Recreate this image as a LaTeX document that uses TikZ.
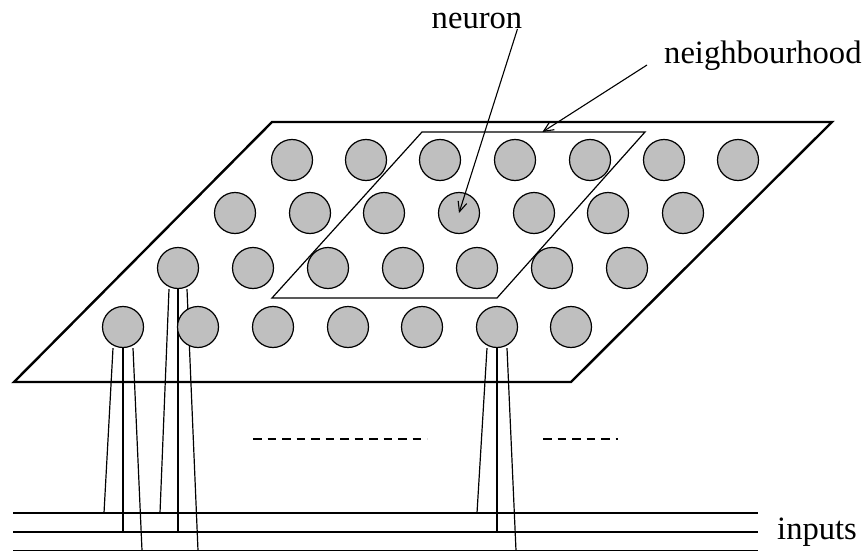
\documentclass[tikz,border=0pt]{standalone}
\usepackage{fontspec}
\setmainfont{Liberation Serif}
\usepackage{xcolor}
\usepackage{tikz}
\usetikzlibrary{arrows.meta, calc, positioning, backgrounds}

\begin{document}
\begin{tikzpicture}[
    x=1pt, y=-1pt,
    neuron/.style={circle, draw, fill=gray!50, minimum size=41pt, inner sep=0pt, line width=1.2pt},
    sheet/.style={draw, line width=2.4pt, line join=miter},
    wire/.style={draw, line width=1.2pt},
    arrow/.style={->, line width=1.1pt, >={Straight Barb[length=10pt, width=9pt]}},
    label/.style={inner sep=0pt, font=\fontsize{32.6}{39}\selectfont},
    dots/.style={line width=1.2pt, dash pattern=on 8.5pt off 6pt}
]
\useasboundingbox (0,0) rectangle (868,551);

% Row 1 neurons
\node[neuron] (c11) at (292,160) {};
\node[neuron] (c12) at (366,160) {};
\node[neuron] (c13) at (440,160) {};
\node[neuron] (c14) at (515,160) {};
\node[neuron] (c15) at (590,160) {};
\node[neuron] (c16) at (664,160) {};
\node[neuron] (c17) at (738,160) {};

% Row 2 neurons
\node[neuron] (c21) at (235,213) {};
\node[neuron] (c22) at (310,213) {};
\node[neuron] (c23) at (384,213) {};
\node[neuron] (c24) at (459,213) {};
\node[neuron] (c25) at (534,213) {};
\node[neuron] (c26) at (608,213) {};
\node[neuron] (c27) at (683,213) {};

% Row 3 neurons
\node[neuron] (c31) at (178,268) {};
\node[neuron] (c32) at (253,268) {};
\node[neuron] (c33) at (328,268) {};
\node[neuron] (c34) at (403,268) {};
\node[neuron] (c35) at (477,268) {};
\node[neuron] (c36) at (552,268) {};
\node[neuron] (c37) at (627,268) {};

% Row 4 neurons
\node[neuron] (c41) at (123,327) {};
\node[neuron] (c42) at (198,327) {};
\node[neuron] (c43) at (273,327) {};
\node[neuron] (c44) at (348,327) {};
\node[neuron] (c45) at (422,327) {};
\node[neuron] (c46) at (497,327) {};
\node[neuron] (c47) at (571,327) {};

% Input lines
\coordinate (in1) at (13,513);
\coordinate (out1) at (758,513);
\coordinate (in2) at (13,532);
\coordinate (out2) at (758,532);
\coordinate (in3) at (13,550.5);
\coordinate (out3) at (758,550.5);
\node[label, anchor=west] (inputs) at (777,532) {inputs};

% Map sheet and neighbourhood corners
\coordinate (p1) at (272,122);
\coordinate (p2) at (832,122);
\coordinate (p3) at (571,382);
\coordinate (p4) at (14,382);
\coordinate (nb1) at (422,132);
\coordinate (nb2) at (645,132);
\coordinate (nb3) at (497,298);
\coordinate (nb4) at (272,298);

\begin{scope}[on background layer]
\draw[sheet] (p1) -- (p2) -- (p3) -- (p4) -- cycle;
\draw[wire] (nb1) -- (nb2) -- (nb3) -- (nb4) -- cycle;

\draw[wire] (in1) -- (out1);
\draw[wire] (in2) -- (out2);
\draw[wire] (in3) -- (out3);

% Wires from neurons to inputs
\draw[wire] ([xshift=-9pt]c31.south) -- ([xshift=-18pt]c31.south |- in1);
\draw[wire] (c31.south) -- (c31.south |- in2);
\draw[wire] ([xshift=9pt]c31.south) -- ([xshift=20pt]c31.south |- in3);
\draw[wire] ([xshift=-10pt]c41.south) -- ([xshift=-19pt]c41.south |- in1);
\draw[wire] (c41.south) -- (c41.south |- in2);
\draw[wire] ([xshift=10pt]c41.south) -- ([xshift=19pt]c41.south |- in3);
\draw[wire] ([xshift=-10pt]c46.south) -- ([xshift=-20pt]c46.south |- in1);
\draw[wire] (c46.south) -- (c46.south |- in2);
\draw[wire] ([xshift=10pt]c46.south) -- ([xshift=19pt]c46.south |- in3);
\end{scope}

% Dashes between the wires
\coordinate (d1) at (253,439);
\coordinate (d2) at (427,439);
\coordinate (d3) at (543,439);
\coordinate (d4) at (618,439);
\draw[dots] (d1) -- (d2);
\draw[dots] (d3) -- (d4);

% Labels
\node[label, anchor=base] (neuronlabel) at (477,29) {neuron};
\node[label, anchor=base west] (nbhlabel) at (664,64) {neighbourhood};

\draw[arrow] ([xshift=-5pt]neuronlabel.base east) -- (c24.center);
\draw[arrow] ([xshift=-17pt, yshift=-1pt]nbhlabel.base west) -- ($(nb1)!0.54!(nb2)$);

\end{tikzpicture}
\end{document}
